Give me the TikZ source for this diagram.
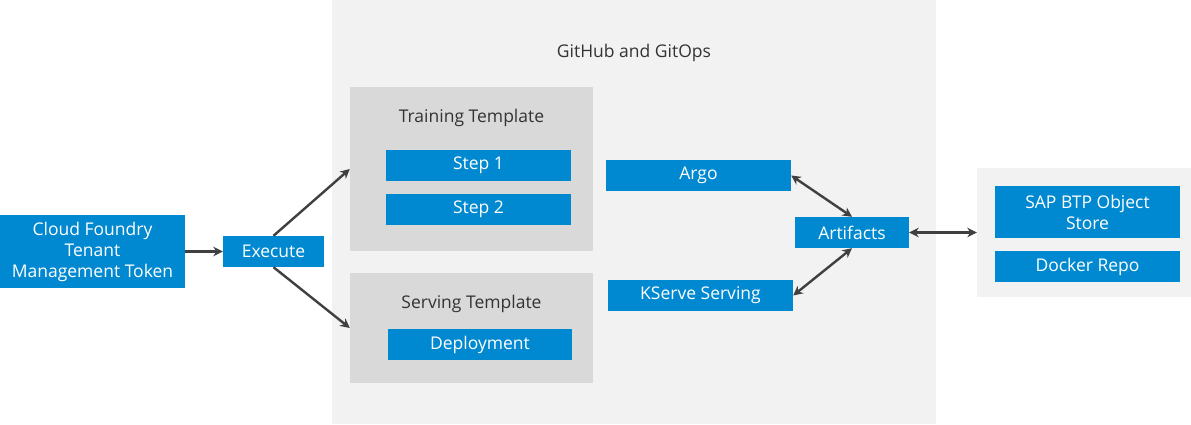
\documentclass[tikz,border=0pt]{standalone}
\usepackage{fontspec}
\setmainfont{Open Sans}
\usetikzlibrary{arrows.meta}
\definecolor{sapblue}{HTML}{0089D0}
\definecolor{bglight}{HTML}{F2F2F2}
\definecolor{bgmid}{HTML}{D9D9D9}
\definecolor{arrowgray}{HTML}{404040}
\definecolor{labelgray}{HTML}{333333}
\tikzset{
  x=1pt, y=-1pt,
  bluebox/.style={fill=sapblue, text=white, inner sep=0pt, align=center,
    font=\fontsize{17.5}{21}\selectfont, minimum height=31pt},
  panel/.style={inner sep=0pt},
  title/.style={text=labelgray, font=\fontsize{17.5}{21}\selectfont, inner sep=0pt},
  conn/.style={draw=arrowgray, line width=2.4pt, -{Stealth[length=9.5pt,width=9.5pt]}},
  biconn/.style={draw=arrowgray, line width=2.4pt, {Stealth[length=9.5pt,width=9.5pt]}-{Stealth[length=9.5pt,width=9.5pt]}}
}
\begin{document}
\begin{tikzpicture}
\useasboundingbox (0,0) rectangle (1191,424);
% panels
\node[panel, fill=bglight, minimum width=604pt, minimum height=424pt] (git) at (634,212) {};
\node[title] (gittitle) at (634,52.5) {GitHub and GitOps};
\node[panel, fill=bgmid, minimum width=243pt, minimum height=164pt] (train) at (471.5,169) {};
\node[title] (traintitle) at (471.5,117.5) {Training Template};
\node[panel, fill=bgmid, minimum width=243pt, minimum height=110pt] (serve) at (471.5,328) {};
\node[title] (servetitle) at (471.5,303.5) {Serving Template};
\node[panel, fill=bglight, minimum width=214pt, minimum height=129pt] (store) at (1084,232.5) {};
% blue boxes
\node[bluebox, minimum width=185pt, minimum height=73pt] (cf) at (92.5,251.5) {Cloud Foundry\\Tenant\\Management Token};
\node[bluebox, minimum width=101pt] (exec) at (273.5,251.5) {Execute};
\node[bluebox, minimum width=185pt] (step1) at (478.5,165.5) {Step 1};
\node[bluebox, minimum width=185pt] (step2) at (478.5,209.5) {Step 2};
\node[bluebox, minimum width=184pt] (deploy) at (480,344.5) {Deployment};
\node[bluebox, minimum width=185pt] (argo) at (698.5,175.5) {Argo};
\node[bluebox, minimum width=114pt] (art) at (852,232.5) {Artifacts};
\node[bluebox, minimum width=185pt] (kserve) at (700.5,295.5) {KServe Serving};
\node[bluebox, minimum width=185pt, minimum height=52pt] (sap) at (1087.5,212) {SAP BTP Object\\Store};
\node[bluebox, minimum width=185pt] (docker) at (1087.5,266.5) {Docker Repo};
% connectors
\draw[conn] (cf.east) -- (exec.west);
\draw[conn] (exec.north) -- (train.west);
\draw[conn] (exec.south) -- (serve.west);
\draw[biconn] (argo.east) -- (art.north);
\draw[biconn] (kserve.east) -- (art.south);
\draw[biconn] (art.east) -- (store.west);
\end{tikzpicture}
\end{document}
